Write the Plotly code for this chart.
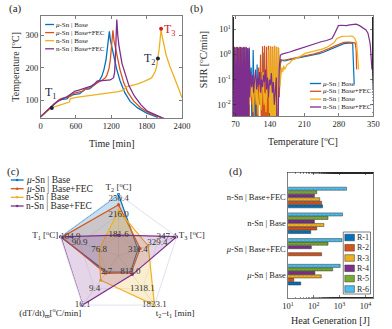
import plotly.graph_objects as go

W, H = 392, 329
FONT = "Liberation Serif, DejaVu Serif, serif"
INK = "#262626"
COLORS = ["#0072BD", "#D95319", "#EDB120", "#7E2F8E"]
BAR_COLORS = ["#0072BD", "#D95319", "#EDB120", "#7E2F8E", "#77AC30", "#4DBEEE"]
SERIES = ["<i>μ</i>-Sn | Base", "<i>μ</i>-Sn | Base+FEC", "n-Sn | Base", "n-Sn | Base+FEC"]

# ---------------- (a) Temperature vs time ----------------
mu_base_t = [0, 110, 229, 311, 400, 447, 502, 560, 665, 720, 747, 829, 884, 940, 993, 1040, 1075, 1110, 1140, 1167,
             1185, 1211, 1250, 1293, 1350, 1429, 1520, 1647, 1800, 1947, 1990]
mu_base_T = [50, 68, 88, 101, 104, 105, 115, 118, 121, 128, 134, 136, 144, 150, 160, 175, 195, 225, 268, 313,
             285, 262, 225, 195, 160, 124, 97, 77, 61, 52, 48]
mu_fec_t = [0, 110, 229, 338, 400, 447, 520, 556, 640, 720, 770, 829, 880, 911, 980, 1047, 1100, 1129, 1160, 1184,
            1205, 1227, 1245, 1265, 1300, 1347, 1410, 1484, 1580, 1702, 1850, 2002, 2040]
mu_fec_T = [50, 69, 90, 105, 108, 111, 114, 122, 125, 129, 136, 139, 145, 149, 156, 163, 170, 180, 198, 226,
            265, 316, 285, 267, 230, 195, 155, 124, 98, 77, 60, 50, 48]
n_base_t = [0, 100, 175, 230, 311, 400, 447, 490, 502, 560, 665, 800, 993, 1150, 1320, 1402, 1430, 1456, 1538, 1650,
            1750, 1838, 1870, 1893, 1920, 1947, 1970, 1991, 2010, 2030, 2045, 2060, 2084, 2130, 2193, 2250, 2302, 2350, 2400]
n_base_T = [50, 64, 76, 80, 85, 89, 93, 95, 105, 108, 111, 114, 118, 122, 127, 131, 136, 142, 146, 151,
            158, 164, 168, 172, 180, 190, 205, 229, 255, 290, 321, 300, 277, 240, 206, 180, 160, 133, 108]
n_fec_t = [0, 110, 229, 300, 365, 447, 500, 584, 650, 720, 790, 856, 920, 965, 1050, 1184, 1238, 1255, 1265, 1275,
           1293, 1310, 1331, 1380, 1429, 1500, 1593, 1700, 1811, 1950, 2056, 2090]
n_fec_T = [50, 69, 88, 98, 105, 111, 118, 129, 132, 136, 142, 144, 152, 160, 161, 163, 170, 185, 216, 280,
           349, 300, 267, 215, 185, 145, 113, 87, 67, 55, 47, 46]
mark_t = [190, 1991, 2045]          # T1, T2, T3 of n-Sn | Base
mark_T = [77, 229, 321]
mark_labels = ["T<sub>1</sub>", "T<sub>2</sub>", "T<sub>3</sub>"]

# ---------------- (b) SHR vs temperature ----------------
mu_base_temp = [65, 67, 68, 70, 72, 73, 75, 77, 78, 80, 82, 83, 85, 87, 88, 90, 92, 93, 95, 97, 98, 100,
                102, 104, 106, 108, 110, 112, 114, 116, 118, 120, 122, 124, 126, 128, 130, 132, 134, 136, 138, 140,
                142, 144, 146, 148, 150, 152, 154, 156, 158,
                160, 162, 165, 170, 180, 190, 200, 210, 220, 230, 240, 250, 260, 270, 280, 290, 300, 305, 308, 309, 310, 311]
mu_base_shr = [1.8, 1e-4, 1.9, 1e-4, 1.8, 1e-4, 1.9, 1e-4, 1.7, 1e-4, 1.9, 1e-4, 1.8, 1e-4, 1.9, 1e-4, 1.8, 0.02, 1.7, 1e-4, 1.6, 0.05,
               0.3, 1e-4, 1.5, 0.01, 0.08, 1e-4, 0.4, 0.005, 0.06, 0.02, 0.2, 1e-4, 1.2, 0.01, 0.05, 1e-4, 0.1, 0.006, 0.04, 0.02,
               0.08, 1e-4, 0.03, 0.01, 0.06, 1e-4, 0.04, 0.02, 0.15,
               0.45, 0.62, 0.58, 0.55, 0.62, 0.68, 0.74, 0.8, 0.88, 0.97, 1.08, 1.25, 1.5, 1.8, 2.3, 2.7, 2.8, 2.9, 2.7, 1.2, 0.3, 0.07]
mu_fec_temp = [66, 68, 69, 71, 72, 74, 76, 77, 79, 81, 82, 84, 86, 87, 89, 91, 92, 94, 96, 97, 99,
               101, 103, 105, 107, 109, 111, 113, 115, 117, 119, 121, 123, 125, 127, 129, 131, 133, 135, 137, 139,
               141, 143, 145, 147, 149, 151, 153, 155, 157, 159,
               161, 163, 166, 170, 180, 190, 200, 210, 220, 230, 240, 250, 260, 270, 280, 290, 300, 310, 313, 315, 316]
mu_fec_shr = [2.0, 1e-4, 1.9, 1e-4, 2.0, 1e-4, 1.8, 1e-4, 2.0, 1e-4, 1.9, 1e-4, 1.8, 1e-4, 2.0, 1e-4, 0.5, 0.01, 0.2, 1e-4, 0.1,
              0.05, 0.01, 0.15, 1e-4, 0.08, 0.02, 0.1, 1e-4, 0.3, 0.01, 1.0, 1e-4, 2.1, 1e-4, 2.2, 1e-4, 2.0, 1e-4, 2.2, 1e-4,
              2.1, 1e-4, 2.0, 1e-4, 2.2, 1e-4, 2.0, 1e-4, 1.9, 0.02,
              0.4, 0.55, 0.6, 0.6, 0.66, 0.72, 0.78, 0.85, 0.95, 1.05, 1.2, 1.4, 1.7, 2.1, 2.6, 3.0, 3.1, 3.1, 2.9, 1.5, 0.25]
n_base_temp = [66, 68, 70, 72, 74, 76, 78, 80, 82, 84, 86, 88, 90, 92, 94, 96, 98, 100,
               102, 104, 106, 108, 110, 112, 114, 116, 118, 120, 122, 124, 126, 128, 130, 132, 134, 136, 138, 140,
               142, 144, 146, 148, 150, 152, 154, 156, 158, 160,
               162, 164, 166, 168, 170, 175, 180, 185, 190, 200, 211, 220, 230, 244, 255, 265, 270, 276, 286, 295, 302, 307,
               312, 316, 318, 320]
n_base_shr = [1e-4, 1e-4, 1.8, 1e-4, 1.7, 1e-4, 1e-4, 1.8, 1e-4, 1e-4, 1.6, 1e-4, 0.01, 0.1, 0.004, 0.05, 0.01, 0.08,
              0.02, 0.1, 0.005, 0.03, 0.15, 0.01, 0.05, 0.004, 0.02, 0.08, 0.006, 0.04, 0.2, 0.01, 0.03, 0.005, 0.1, 0.02, 1.5, 1e-4,
              2.0, 1e-4, 1.9, 1e-4, 2.1, 1e-4, 2.0, 1e-4, 1.8, 0.05,
              0.15, 0.3, 0.2, 0.35, 0.25, 0.4, 0.45, 0.6, 0.65, 0.8, 1.1, 1.2, 1.35, 1.6, 1.9, 2.4, 2.9, 4.3, 5.2, 5.3, 5.5, 5.4,
              4.5, 2.8, 0.9, 0.25]
n_fec_temp = [65, 66, 68, 69, 71, 72, 74, 75, 77, 78, 80, 81, 83, 84, 86, 87, 89, 90, 92, 93, 95, 96, 98, 99,
              101, 103, 105, 107, 109, 111, 113, 115, 117, 119, 121, 123, 125, 127, 129, 131, 133, 135, 137, 139,
              141, 143, 145, 147, 149, 151, 153, 155, 157, 159,
              161, 163, 166, 172, 180, 190, 200, 211, 220, 230, 244, 255, 266, 270, 275, 279, 285, 295, 302, 310,
              315, 322, 328, 335, 339, 341, 343, 344, 346, 347]
n_fec_shr = [1.9, 1e-4, 2.0, 1e-4, 1.9, 1e-4, 2.0, 1e-4, 1.9, 1e-4, 2.0, 1e-4, 1.9, 1e-4, 2.0, 1e-4, 1.9, 1e-4, 2.0, 1e-4, 1.8, 1e-4, 1.9, 0.02,
             0.2, 0.05, 0.15, 0.03, 0.1, 0.25, 0.04, 0.12, 0.06, 0.2, 0.03, 0.1, 0.05, 0.15, 0.08, 0.25, 0.04, 0.12, 0.02, 0.1,
             0.06, 0.18, 0.03, 0.08, 0.01, 0.05, 0.12, 1e-4, 0.04, 0.3,
             0.9, 1.0, 1.05, 1.1, 1.25, 1.45, 1.7, 2.0, 2.3, 2.6, 3.2, 3.6, 4.3, 6.0, 9.0, 14.0, 14.5, 14.0, 15.0, 15.5,
             16.0, 14.0, 12.0, 9.4, 7.0, 5.0, 3.0, 2.0, 0.8, 0.25]

# ---------------- (c) radar ----------------
RADAR_AXES = ["T<sub>2</sub> [<sup>o</sup>C]", "T<sub>3</sub> [<sup>o</sup>C]", "t<sub>2</sub>−t<sub>1</sub> [min]",
              "(dT/dt)<sub>m</sub>[<sup>o</sup>C/min]", "T<sub>1</sub> [<sup>o</sup>C]"]
radar_mu_base = [250.4, 311.4, 813.0, 2.7, 104.92]
radar_mu_fec = [233.0, 313.5, 840.0, 3.2, 103.8]
radar_n_base = [223.0, 321.0, 1823.12, 6.0, 76.8]
radar_n_fec = [181.6, 347.4, 890.0, 16.1, 104.6]

# ---------------- (d) heat generation ----------------
heat_R1 = [31, None, 76, 218]
heat_R2 = [16.7, 200, 130, 200]
heat_R3 = [195, None, 245, 170]
heat_R4 = [110, 80, 105, 105]
heat_R5 = [540, 355, 355, 130]
heat_R6 = [1050, 1230, 1300, 1850]
R_NAMES = ["R-1", "R-2", "R-3", "R-4", "R-5", "R-6"]


def px(x):
    return x / W


def py(y):
    return 1 - y / H


fig = go.Figure()

# (a)
a_data = [(mu_base_t, mu_base_T), (mu_fec_t, mu_fec_T), (n_base_t, n_base_T), (n_fec_t, n_fec_T)]
for i, (t, T) in enumerate(a_data):
    fig.add_trace(go.Scatter(x=t, y=T, mode="lines", line=dict(color=COLORS[i], width=1.3),
                             xaxis="x", yaxis="y", showlegend=False))
fig.add_trace(go.Scatter(x=mark_t, y=mark_T, mode="markers",
                         marker=dict(color=["#1b1f4a", "#1b1f4a", "#d62020"], size=4),
                         xaxis="x", yaxis="y", showlegend=False))

# (b)
b_data = [(mu_base_temp, mu_base_shr), (mu_fec_temp, mu_fec_shr), (n_base_temp, n_base_shr), (n_fec_temp, n_fec_shr)]
for i, (t, s) in enumerate(b_data):
    fig.add_trace(go.Scatter(x=t, y=s, mode="lines", line=dict(color=COLORS[i], width=1.2),
                             xaxis="x2", yaxis="y2", showlegend=False))

# (c) radar
radar = [radar_mu_base, radar_mu_fec, radar_n_base, radar_n_fec]
lo = [min(s[k] for s in radar) for k in range(5)]
hi = [max(s[k] for s in radar) for k in range(5)]


def norm(v, k):
    return 1 / 3 + 2 / 3 * (v - lo[k]) / (hi[k] - lo[k])


fills = ["rgba(0,114,189,0.22)", "rgba(217,83,25,0.18)", "rgba(237,177,32,0.22)", "rgba(126,47,142,0.2)"]
for i, s in enumerate(radar):
    r = [norm(v, k) for k, v in enumerate(s)]
    fig.add_trace(go.Scatterpolar(r=r + r[:1], theta=RADAR_AXES + RADAR_AXES[:1], mode="lines+markers",
                                  fill="toself", fillcolor=fills[i], line=dict(color=COLORS[i], width=1.2),
                                  marker=dict(size=3, color=COLORS[i]), subplot="polar", showlegend=False))
lab_r, lab_t, lab_txt, lab_pos = [], [], [], []
outer_pos = ["bottom center", "middle left", "middle center", "middle center", "middle right"]
for k in range(5):
    for f, v in [(1 / 3, lo[k]), (2 / 3, (lo[k] + hi[k]) / 2), (1.0, hi[k])]:
        lab_r.append(f)
        lab_t.append(RADAR_AXES[k])
        lab_txt.append(f"{v:.1f}")
        lab_pos.append(outer_pos[k] if f == 1.0 else "middle center")
fig.add_trace(go.Scatterpolar(r=lab_r, theta=lab_t, mode="text", text=lab_txt, textposition=lab_pos,
                              textfont=dict(family=FONT, size=9, color="#333333"),
                              subplot="polar", showlegend=False))

# (d) bars
heat = [heat_R1, heat_R2, heat_R3, heat_R4, heat_R5, heat_R6]
dark = ["#00456f", "#82320f", "#8e6a13", "#4b1c55", "#47671d", "#2e728f"]
for i, vals in enumerate(heat):
    fig.add_trace(go.Bar(y=SERIES, x=vals, orientation="h", xaxis="x3", yaxis="y3", name=R_NAMES[i],
                         marker=dict(color=BAR_COLORS[i], line=dict(color="#333333", width=0.5),
                                     pattern=dict(shape="x", size=3, solidity=0.25, fgcolor=dark[i],
                                                  fillmode="overlay")),
                         showlegend=False))

ax = dict(showline=True, linecolor=INK, linewidth=0.6, mirror="ticks", ticks="inside", ticklen=3,
          tickwidth=0.6, tickcolor=INK, showgrid=False, zeroline=False,
          tickfont=dict(family=FONT, size=8.5, color=INK))

fig.update_layout(
    width=W, height=H, margin=dict(l=0, r=0, t=0, b=0), paper_bgcolor="white", plot_bgcolor="white",
    font=dict(family=FONT, color=INK),
    showlegend=False, barmode="group", bargap=0.18, bargroupgap=0.12,
    xaxis=dict(ax, domain=[px(36), px(183)], range=[0, 2400], tickvals=[0, 600, 1200, 1800, 2400], anchor="y"),
    yaxis=dict(ax, domain=[py(118), py(16)], range=[46, 360], tickvals=[100, 200, 300], anchor="x"),
    xaxis2=dict(ax, domain=[px(236), px(382)], range=[65, 350], tickvals=[70, 140, 210, 280, 350], anchor="y2"),
    yaxis2=dict(ax, domain=[py(116), py(16)], type="log", range=[-2.45, 1.53], anchor="x2",
                tickvals=[0.01, 0.1, 1, 10],
                ticktext=["10<sup>-2</sup>", "10<sup>-1</sup>", "10<sup>0</sup>", "10<sup>1</sup>"],
                minor=dict(ticks="inside", ticklen=1.5, tickwidth=0.5, tickcolor=INK)),
    xaxis3=dict(ax, domain=[px(293.3), px(381.7)], type="log", range=[1, 4.3], anchor="y3",
                tickvals=[10, 100, 1000, 10000],
                ticktext=["10<sup>1</sup>", "10<sup>2</sup>", "10<sup>3</sup>", "10<sup>4</sup>"],
                minor=dict(ticks="inside", ticklen=1.5, tickwidth=0.5, tickcolor=INK)),
    yaxis3=dict(ax, domain=[py(298.3), py(172.3)], type="category", categoryorder="array",
                categoryarray=SERIES, range=[-0.92, 3.98], anchor="x3", ticklen=0),
    polar=dict(domain=dict(x=[px(117 - 63.6), px(117 + 63.6)], y=[py(255.6 + 63.6), py(255.6 - 63.6)]),
               gridshape="linear", bgcolor="white",
               radialaxis=dict(range=[0, 1], tickvals=[1 / 3, 2 / 3, 1], showticklabels=False, ticks="",
                               showline=False, gridcolor="#e4e4e4", gridwidth=0.6),
               angularaxis=dict(direction="clockwise", rotation=90, gridcolor="#d6d6d6", gridwidth=0.6,
                                linecolor="#d8d8e8", linewidth=0.8, ticks="",
                                tickfont=dict(family=FONT, size=9, color=INK))),
)

ann = []
shapes = []


def text(x, y, s, size, color=INK, xa="center", ya="middle", angle=0, ref=("paper", "paper")):
    if ref == ("paper", "paper"):
        x, y = px(x), py(y)
    ann.append(dict(x=x, y=y, xref=ref[0], yref=ref[1], text=s, showarrow=False, textangle=angle, borderpad=0,
                    font=dict(family=FONT, size=size, color=color), xanchor=xa, yanchor=ya))


# panel letters
text(2, 8, "(a)", 11, xa="left")
text(190, 8, "(b)", 11, xa="left")
text(0, 171, "(c)", 11, xa="left")
text(231, 171, "(d)", 11, xa="left")

# axis titles
text(9, 67, "Temperature [<sup>o</sup>C]", 10, angle=-90)
text(110, 143, "Time [min]", 10)
text(205, 60, "SHR [<sup>o</sup>C/min]", 10, angle=-90)
text(309, 141, "Temperature [<sup>o</sup>C]", 10)
text(337, 320, "Heat Generation [J]", 10)

# T annotations in (a)
text(175, 123, mark_labels[0], 12, color="#1b1f4a", ref=("x", "y"))
text(1855, 228, mark_labels[1], 12, color="#1b1f4a", ref=("x", "y"))
text(2200, 318, mark_labels[2], 12, color="#d62020", ref=("x", "y"))


def line_legend(x0, x1, ys, size, marker=False):
    for i, y in enumerate(ys):
        shapes.append(dict(type="line", xref="paper", yref="paper", x0=px(x0), x1=px(x1), y0=py(y), y1=py(y),
                           line=dict(color=COLORS[i], width=1.3)))
        if marker:
            xm = (x0 + x1) / 2
            shapes.append(dict(type="circle", xref="paper", yref="paper", x0=px(xm - 1.3), x1=px(xm + 1.3),
                               y0=py(y + 1.3), y1=py(y - 1.3), fillcolor=COLORS[i], line=dict(width=0)))
        text(x1 + 1.2, y, SERIES[i], size, xa="left")


line_legend(40.7, 50, [24.5, 32.6, 40.7, 48.8], 7)
line_legend(316, 327.7, [83.5, 91.3, 99.1, 107], 7)
line_legend(5, 18.3, [180, 188.7, 197.3, 206], 9.5, marker=True)

# (d) legend
shapes.append(dict(type="rect", xref="paper", yref="paper", x0=px(350.7), x1=px(379), y0=py(294), y1=py(232),
                   line=dict(color=INK, width=0.6), fillcolor="white"))
rows = [237.5, 247.8, 258, 268.3, 278.6, 289]
for i, y in enumerate(rows):
    shapes.append(dict(type="rect", xref="paper", yref="paper", x0=px(352.3), x1=px(362.3), y0=py(y + 3.3),
                       y1=py(y - 3.3), fillcolor=BAR_COLORS[i], line=dict(color="#333333", width=0.5)))
    text(364, y, R_NAMES[i], 8, xa="left")

fig.update_layout(annotations=ann, shapes=shapes)
fig.write_html("out.html", config={"displayModeBar": False, "staticPlot": True},
               post_script="document.body.style.margin='0';document.body.style.overflow='hidden';")
